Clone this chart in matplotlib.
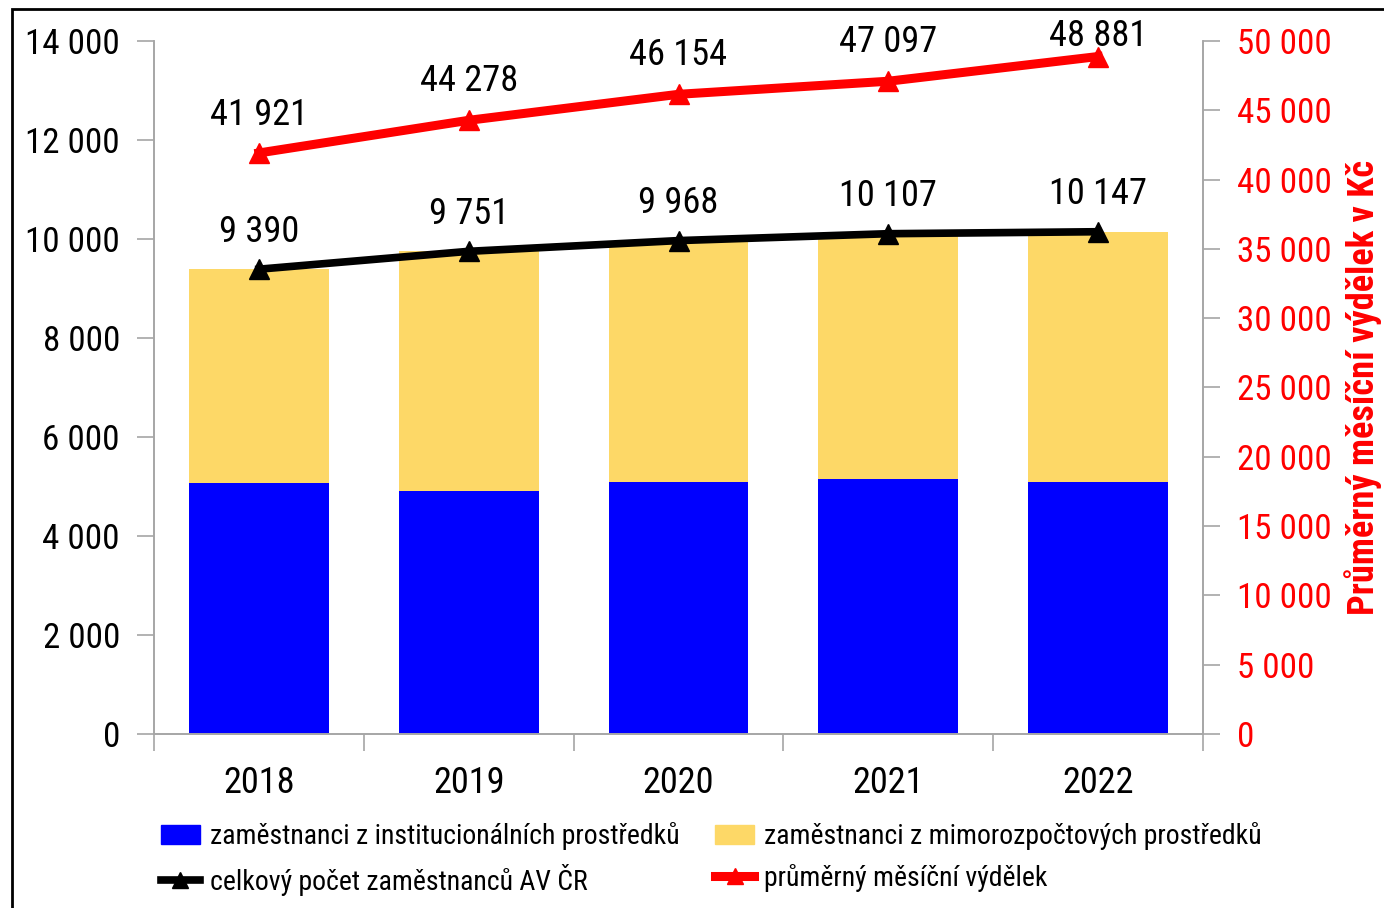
import matplotlib
matplotlib.use("Agg")
import matplotlib.pyplot as plt
from matplotlib import font_manager as fm
from matplotlib.patches import Rectangle, Patch
from matplotlib.lines import Line2D
import numpy as np

years = ["2018", "2019", "2020", "2021", "2022"]
institutional = [5070, 4910, 5090, 5150, 5090]
total_staff = [9390, 9751, 9968, 10107, 10147]
avg_wage = [41921, 44278, 46154, 47097, 48881]
extra_budget = [t - i for t, i in zip(total_staff, institutional)]

left_ticks = [0, 2000, 4000, 6000, 8000, 10000, 12000, 14000]
right_ticks = [0, 5000, 10000, 15000, 20000, 25000, 30000, 35000, 40000, 45000, 50000]

# label offsets above points (points)
staff_label_dy = [27, 27, 27, 27, 27]
wage_label_dy = [27, 28, 28, 28, 15]

def fmt(v):
    return f"{v:,}".replace(",", " ")

# pick a narrow font if one is installed
ttf = fm.fontManager.ttflist
names = {f.name for f in ttf}
if "Liberation Sans Narrow" in names:
    FAM, STRETCH, K = "Liberation Sans Narrow", "normal", 1.0
elif "Roboto Condensed" in names:
    FAM, STRETCH, K = "Roboto Condensed", "normal", 0.97
elif any(f.name == "DejaVu Sans" and str(f.stretch) in ("condensed", "semi-condensed")
         for f in ttf):
    FAM, STRETCH, K = "DejaVu Sans", "condensed", 0.86
else:
    FAM, STRETCH, K = "Liberation Sans", "normal", 0.84

plt.rcParams['font.family'] = [FAM, 'DejaVu Sans']
plt.rcParams['font.stretch'] = STRETCH

FS = 27 * K
TFS = 26 * K
LFS = 20.6 * K

BLUE = "#0000FF"
YELLOW = "#FDD867"
RED = "#FF0000"
GREY = "#A6A6A6"

fig = plt.figure(figsize=(13.84, 9.08), dpi=100)
ax = fig.add_axes([154/1384, 1-734/908, (1203-154)/1384, (734-41)/908])
ax2 = ax.twinx()

x = np.arange(len(years))
w = 0.667
ax.bar(x, institutional, width=w, color=BLUE, zorder=2)
ax.bar(x, extra_budget, width=w, bottom=institutional, color=YELLOW, zorder=2)
ax.plot(x, total_staff, color="black", lw=5.5, marker="^", ms=14, zorder=3)
for xi, v, dy in zip(x, total_staff, staff_label_dy):
    ax.annotate(fmt(v), (xi, v), xytext=(0, dy), textcoords="offset points",
                ha="center", va="center", fontsize=FS)

ax2.plot(x, avg_wage, color=RED, lw=6.5, marker="^", ms=14, zorder=3)
for xi, v, dy in zip(x, avg_wage, wage_label_dy):
    ax2.annotate(fmt(v), (xi, v), xytext=(0, dy), textcoords="offset points",
                 ha="center", va="center", fontsize=FS)

ax.set_xlim(-0.5, len(years) - 0.5)
ax.set_ylim(0, 14000)
ax2.set_ylim(0, 50000)

ax.set_yticks(left_ticks)
ax.set_yticklabels([fmt(v) for v in left_ticks], fontsize=TFS)
ax2.set_yticks(right_ticks)
ax2.set_yticklabels([fmt(v) for v in right_ticks], fontsize=TFS, color=RED)

ax.set_xticks(x)
ax.set_xticklabels(years, fontsize=FS)
ax.set_xticks(np.arange(-0.5, len(years), 1.0), minor=True)
ax.tick_params(axis="x", which="major", length=0, pad=22)
ax.tick_params(axis="x", which="minor", length=12, color=GREY, width=1.2)
ax.tick_params(axis="y", length=12, color=GREY, width=1.2, pad=12.5)
ax2.tick_params(axis="y", length=12, color=GREY, width=1.2, pad=12.5)

for a in (ax, ax2):
    a.spines["top"].set_visible(False)
    for s in ("left", "right", "bottom"):
        a.spines[s].set_color(GREY)
        a.spines[s].set_linewidth(1.2)
    a.set_facecolor("none")

ax2.set_ylabel("Průměrný měsíční výdělek v Kč", color=RED, fontsize=27 * K,
               fontweight="bold", labelpad=9)

handles = [
    Patch(color=BLUE, label="zaměstnanci z institucionálních prostředků"),
    Line2D([], [], color="black", lw=5.5, marker="^", ms=12, label="celkový počet zaměstnanců AV ČR"),
    Patch(color=YELLOW, label="zaměstnanci z mimorozpočtových prostředků"),
    Line2D([], [], color=RED, lw=6.5, marker="^", ms=12, label="průměrný měsíční výdělek"),
]
fig.legend(handles=handles, ncol=2, loc="center left",
           bbox_to_anchor=(136/1384, 1-859/908), frameon=False, fontsize=LFS,
           handlelength=1.4, handletextpad=0.35, columnspacing=1.3,
           labelspacing=0.5)

fig.patches.append(Rectangle((12/1384, -0.1), 1.2, 1.1 - 9/908, transform=fig.transFigure,
                             fill=False, edgecolor="black", lw=2))

fig.savefig("out.png", dpi=100)
